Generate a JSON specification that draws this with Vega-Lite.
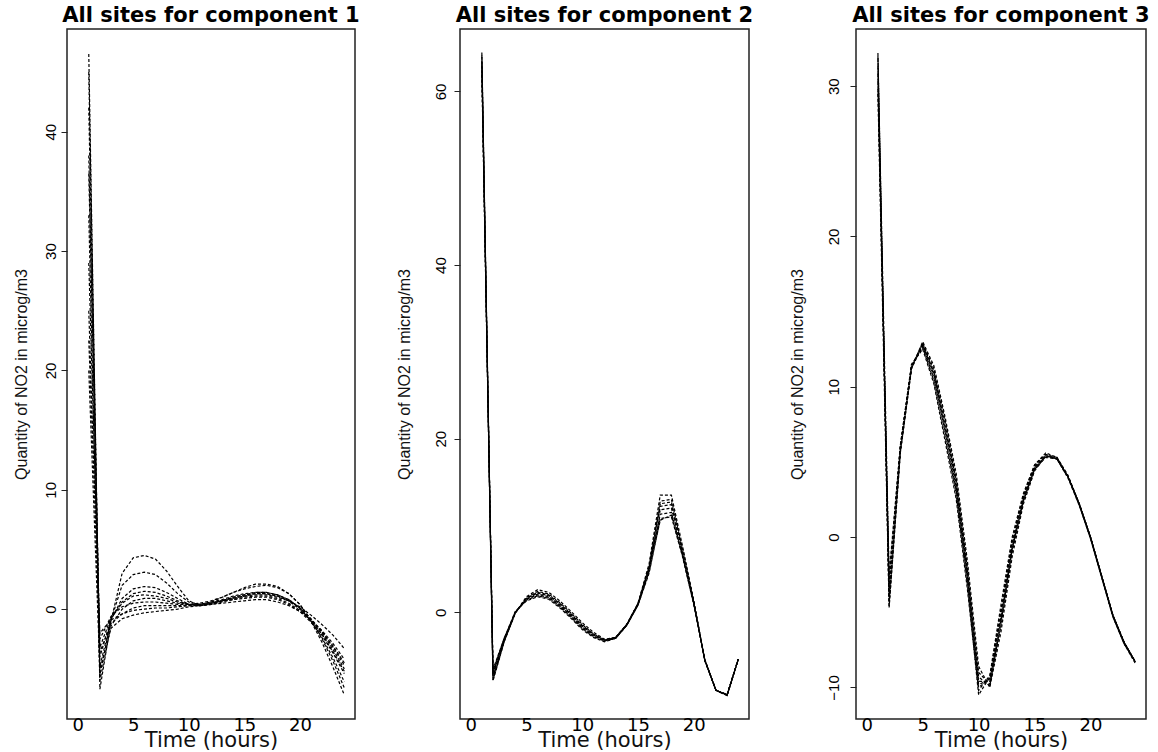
{
"$schema": "https://vega.github.io/schema/vega-lite/v6.json",
"background": "white",
"padding": {"left": 12, "top": 4, "right": 10, "bottom": 2},
"spacing": 34,
"config": {
  "view": {"stroke": "#222", "strokeWidth": 1.5},
  "axis": {"grid": false, "domain": false, "labelColor": "#000", "titleColor": "#111", "tickColor": "#222", "labelFlush": false, "labelOverlap": false, "labelBound": false}
},
"datasets": {
"c1": [
{"site":"a","hour":1,"no2":46.5},{"site":"a","hour":2,"no2":-6.7},{"site":"a","hour":3,"no2":-1.0},{"site":"a","hour":4,"no2":3.0},{"site":"a","hour":5,"no2":4.3},{"site":"a","hour":6,"no2":4.5},{"site":"a","hour":7,"no2":4.2},{"site":"a","hour":8,"no2":3.2},{"site":"a","hour":9,"no2":1.9},{"site":"a","hour":10,"no2":0.7},{"site":"a","hour":11,"no2":0.3},{"site":"a","hour":12,"no2":0.4},{"site":"a","hour":13,"no2":0.7},{"site":"a","hour":14,"no2":1.0},{"site":"a","hour":15,"no2":1.2},{"site":"a","hour":16,"no2":1.4},{"site":"a","hour":17,"no2":1.4},{"site":"a","hour":18,"no2":1.2},{"site":"a","hour":19,"no2":0.8},{"site":"a","hour":20,"no2":0.1},{"site":"a","hour":21,"no2":-0.9},{"site":"a","hour":22,"no2":-2.0},{"site":"a","hour":23,"no2":-3.4},{"site":"a","hour":24,"no2":-5.0},
{"site":"b","hour":1,"no2":45.0},{"site":"b","hour":2,"no2":-5.5},{"site":"b","hour":3,"no2":-0.9},{"site":"b","hour":4,"no2":2.0},{"site":"b","hour":5,"no2":2.9},{"site":"b","hour":6,"no2":3.1},{"site":"b","hour":7,"no2":2.9},{"site":"b","hour":8,"no2":2.2},{"site":"b","hour":9,"no2":1.3},{"site":"b","hour":10,"no2":0.6},{"site":"b","hour":11,"no2":0.4},{"site":"b","hour":12,"no2":0.6},{"site":"b","hour":13,"no2":1.0},{"site":"b","hour":14,"no2":1.4},{"site":"b","hour":15,"no2":1.8},{"site":"b","hour":16,"no2":2.1},{"site":"b","hour":17,"no2":2.1},{"site":"b","hour":18,"no2":1.9},{"site":"b","hour":19,"no2":1.3},{"site":"b","hour":20,"no2":0.4},{"site":"b","hour":21,"no2":-1.0},{"site":"b","hour":22,"no2":-2.8},{"site":"b","hour":23,"no2":-4.9},{"site":"b","hour":24,"no2":-7.2},
{"site":"c","hour":1,"no2":42.0},{"site":"c","hour":2,"no2":-4.8},{"site":"c","hour":3,"no2":-0.9},{"site":"c","hour":4,"no2":0.9},{"site":"c","hour":5,"no2":1.7},{"site":"c","hour":6,"no2":1.9},{"site":"c","hour":7,"no2":1.8},{"site":"c","hour":8,"no2":1.4},{"site":"c","hour":9,"no2":0.9},{"site":"c","hour":10,"no2":0.4},{"site":"c","hour":11,"no2":0.3},{"site":"c","hour":12,"no2":0.5},{"site":"c","hour":13,"no2":0.7},{"site":"c","hour":14,"no2":1.0},{"site":"c","hour":15,"no2":1.2},{"site":"c","hour":16,"no2":1.3},{"site":"c","hour":17,"no2":1.3},{"site":"c","hour":18,"no2":1.1},{"site":"c","hour":19,"no2":0.7},{"site":"c","hour":20,"no2":0.1},{"site":"c","hour":21,"no2":-0.8},{"site":"c","hour":22,"no2":-1.9},{"site":"c","hour":23,"no2":-3.2},{"site":"c","hour":24,"no2":-4.7},
{"site":"d","hour":1,"no2":38.0},{"site":"d","hour":2,"no2":-4.0},{"site":"d","hour":3,"no2":-0.8},{"site":"d","hour":4,"no2":0.6},{"site":"d","hour":5,"no2":1.3},{"site":"d","hour":6,"no2":1.5},{"site":"d","hour":7,"no2":1.4},{"site":"d","hour":8,"no2":1.1},{"site":"d","hour":9,"no2":0.7},{"site":"d","hour":10,"no2":0.4},{"site":"d","hour":11,"no2":0.3},{"site":"d","hour":12,"no2":0.5},{"site":"d","hour":13,"no2":0.7},{"site":"d","hour":14,"no2":0.9},{"site":"d","hour":15,"no2":1.1},{"site":"d","hour":16,"no2":1.2},{"site":"d","hour":17,"no2":1.2},{"site":"d","hour":18,"no2":1.0},{"site":"d","hour":19,"no2":0.7},{"site":"d","hour":20,"no2":0.2},{"site":"d","hour":21,"no2":-0.5},{"site":"d","hour":22,"no2":-1.3},{"site":"d","hour":23,"no2":-2.2},{"site":"d","hour":24,"no2":-3.3},
{"site":"e","hour":1,"no2":36.5},{"site":"e","hour":2,"no2":-3.2},{"site":"e","hour":3,"no2":-0.7},{"site":"e","hour":4,"no2":0.5},{"site":"e","hour":5,"no2":1.1},{"site":"e","hour":6,"no2":1.2},{"site":"e","hour":7,"no2":1.1},{"site":"e","hour":8,"no2":0.9},{"site":"e","hour":9,"no2":0.6},{"site":"e","hour":10,"no2":0.4},{"site":"e","hour":11,"no2":0.3},{"site":"e","hour":12,"no2":0.4},{"site":"e","hour":13,"no2":0.6},{"site":"e","hour":14,"no2":0.8},{"site":"e","hour":15,"no2":0.9},{"site":"e","hour":16,"no2":1.0},{"site":"e","hour":17,"no2":1.0},{"site":"e","hour":18,"no2":0.8},{"site":"e","hour":19,"no2":0.4},{"site":"e","hour":20,"no2":-0.2},{"site":"e","hour":21,"no2":-1.1},{"site":"e","hour":22,"no2":-2.2},{"site":"e","hour":23,"no2":-3.7},{"site":"e","hour":24,"no2":-5.4},
{"site":"f","hour":1,"no2":33.0},{"site":"f","hour":2,"no2":-6.0},{"site":"f","hour":3,"no2":-1.4},{"site":"f","hour":4,"no2":0.0},{"site":"f","hour":5,"no2":0.7},{"site":"f","hour":6,"no2":0.9},{"site":"f","hour":7,"no2":0.9},{"site":"f","hour":8,"no2":0.7},{"site":"f","hour":9,"no2":0.5},{"site":"f","hour":10,"no2":0.4},{"site":"f","hour":11,"no2":0.4},{"site":"f","hour":12,"no2":0.6},{"site":"f","hour":13,"no2":0.8},{"site":"f","hour":14,"no2":1.1},{"site":"f","hour":15,"no2":1.3},{"site":"f","hour":16,"no2":1.4},{"site":"f","hour":17,"no2":1.4},{"site":"f","hour":18,"no2":1.2},{"site":"f","hour":19,"no2":0.8},{"site":"f","hour":20,"no2":0.1},{"site":"f","hour":21,"no2":-1.0},{"site":"f","hour":22,"no2":-2.4},{"site":"f","hour":23,"no2":-4.1},{"site":"f","hour":24,"no2":-6.1},
{"site":"g","hour":1,"no2":29.0},{"site":"g","hour":2,"no2":-2.5},{"site":"g","hour":3,"no2":-0.6},{"site":"g","hour":4,"no2":0.2},{"site":"g","hour":5,"no2":0.5},{"site":"g","hour":6,"no2":0.6},{"site":"g","hour":7,"no2":0.6},{"site":"g","hour":8,"no2":0.5},{"site":"g","hour":9,"no2":0.4},{"site":"g","hour":10,"no2":0.4},{"site":"g","hour":11,"no2":0.5},{"site":"g","hour":12,"no2":0.7},{"site":"g","hour":13,"no2":1.0},{"site":"g","hour":14,"no2":1.4},{"site":"g","hour":15,"no2":1.7},{"site":"g","hour":16,"no2":1.9},{"site":"g","hour":17,"no2":2.0},{"site":"g","hour":18,"no2":1.8},{"site":"g","hour":19,"no2":1.3},{"site":"g","hour":20,"no2":0.4},{"site":"g","hour":21,"no2":-0.9},{"site":"g","hour":22,"no2":-2.5},{"site":"g","hour":23,"no2":-4.4},{"site":"g","hour":24,"no2":-6.6},
{"site":"h","hour":1,"no2":25.0},{"site":"h","hour":2,"no2":-3.6},{"site":"h","hour":3,"no2":-1.2},{"site":"h","hour":4,"no2":-0.4},{"site":"h","hour":5,"no2":0.1},{"site":"h","hour":6,"no2":0.3},{"site":"h","hour":7,"no2":0.3},{"site":"h","hour":8,"no2":0.3},{"site":"h","hour":9,"no2":0.3},{"site":"h","hour":10,"no2":0.3},{"site":"h","hour":11,"no2":0.3},{"site":"h","hour":12,"no2":0.4},{"site":"h","hour":13,"no2":0.5},{"site":"h","hour":14,"no2":0.6},{"site":"h","hour":15,"no2":0.7},{"site":"h","hour":16,"no2":0.8},{"site":"h","hour":17,"no2":0.8},{"site":"h","hour":18,"no2":0.6},{"site":"h","hour":19,"no2":0.3},{"site":"h","hour":20,"no2":-0.2},{"site":"h","hour":21,"no2":-0.9},{"site":"h","hour":22,"no2":-1.8},{"site":"h","hour":23,"no2":-2.9},{"site":"h","hour":24,"no2":-4.2},
{"site":"i","hour":1,"no2":22.5},{"site":"i","hour":2,"no2":-2.0},{"site":"i","hour":3,"no2":-0.9},{"site":"i","hour":4,"no2":-0.4},{"site":"i","hour":5,"no2":-0.1},{"site":"i","hour":6,"no2":0.0},{"site":"i","hour":7,"no2":0.1},{"site":"i","hour":8,"no2":0.1},{"site":"i","hour":9,"no2":0.2},{"site":"i","hour":10,"no2":0.3},{"site":"i","hour":11,"no2":0.4},{"site":"i","hour":12,"no2":0.5},{"site":"i","hour":13,"no2":0.7},{"site":"i","hour":14,"no2":0.9},{"site":"i","hour":15,"no2":1.1},{"site":"i","hour":16,"no2":1.3},{"site":"i","hour":17,"no2":1.3},{"site":"i","hour":18,"no2":1.1},{"site":"i","hour":19,"no2":0.7},{"site":"i","hour":20,"no2":0.0},{"site":"i","hour":21,"no2":-1.0},{"site":"i","hour":22,"no2":-2.1},{"site":"i","hour":23,"no2":-3.6},{"site":"i","hour":24,"no2":-5.2},
{"site":"j","hour":1,"no2":20.0},{"site":"j","hour":2,"no2":-5.0},{"site":"j","hour":3,"no2":-1.6},{"site":"j","hour":4,"no2":-0.8},{"site":"j","hour":5,"no2":-0.5},{"site":"j","hour":6,"no2":-0.3},{"site":"j","hour":7,"no2":-0.2},{"site":"j","hour":8,"no2":-0.1},{"site":"j","hour":9,"no2":0.0},{"site":"j","hour":10,"no2":0.2},{"site":"j","hour":11,"no2":0.3},{"site":"j","hour":12,"no2":0.5},{"site":"j","hour":13,"no2":0.7},{"site":"j","hour":14,"no2":0.8},{"site":"j","hour":15,"no2":1.0},{"site":"j","hour":16,"no2":1.1},{"site":"j","hour":17,"no2":1.1},{"site":"j","hour":18,"no2":0.9},{"site":"j","hour":19,"no2":0.5},{"site":"j","hour":20,"no2":-0.1},{"site":"j","hour":21,"no2":-0.9},{"site":"j","hour":22,"no2":-1.9},{"site":"j","hour":23,"no2":-3.1},{"site":"j","hour":24,"no2":-4.5}
],
"c2": [
{"site":"a","hour":1,"no2":64.5},{"site":"a","hour":2,"no2":-7.9},{"site":"a","hour":3,"no2":-3.4},{"site":"a","hour":4,"no2":-0.1},{"site":"a","hour":5,"no2":1.8},{"site":"a","hour":6,"no2":2.6},{"site":"a","hour":7,"no2":2.3},{"site":"a","hour":8,"no2":1.3},{"site":"a","hour":9,"no2":0.1},{"site":"a","hour":10,"no2":-1.2},{"site":"a","hour":11,"no2":-2.3},{"site":"a","hour":12,"no2":-3.1},{"site":"a","hour":13,"no2":-2.9},{"site":"a","hour":14,"no2":-1.4},{"site":"a","hour":15,"no2":1.0},{"site":"a","hour":16,"no2":5.6},{"site":"a","hour":17,"no2":13.5},{"site":"a","hour":18,"no2":13.5},{"site":"a","hour":19,"no2":7.6},{"site":"a","hour":20,"no2":1.4},{"site":"a","hour":21,"no2":-5.6},{"site":"a","hour":22,"no2":-9.0},{"site":"a","hour":23,"no2":-9.5},{"site":"a","hour":24,"no2":-5.4},
{"site":"b","hour":1,"no2":64.0},{"site":"b","hour":2,"no2":-7.6},{"site":"b","hour":3,"no2":-3.3},{"site":"b","hour":4,"no2":-0.1},{"site":"b","hour":5,"no2":1.7},{"site":"b","hour":6,"no2":2.4},{"site":"b","hour":7,"no2":2.1},{"site":"b","hour":8,"no2":1.1},{"site":"b","hour":9,"no2":-0.1},{"site":"b","hour":10,"no2":-1.4},{"site":"b","hour":11,"no2":-2.5},{"site":"b","hour":12,"no2":-3.2},{"site":"b","hour":13,"no2":-2.9},{"site":"b","hour":14,"no2":-1.4},{"site":"b","hour":15,"no2":1.0},{"site":"b","hour":16,"no2":5.3},{"site":"b","hour":17,"no2":12.8},{"site":"b","hour":18,"no2":13.0},{"site":"b","hour":19,"no2":7.3},{"site":"b","hour":20,"no2":1.3},{"site":"b","hour":21,"no2":-5.6},{"site":"b","hour":22,"no2":-9.0},{"site":"b","hour":23,"no2":-9.5},{"site":"b","hour":24,"no2":-5.4},
{"site":"c","hour":1,"no2":63.5},{"site":"c","hour":2,"no2":-7.2},{"site":"c","hour":3,"no2":-3.2},{"site":"c","hour":4,"no2":0.0},{"site":"c","hour":5,"no2":1.6},{"site":"c","hour":6,"no2":2.2},{"site":"c","hour":7,"no2":1.9},{"site":"c","hour":8,"no2":0.9},{"site":"c","hour":9,"no2":-0.3},{"site":"c","hour":10,"no2":-1.6},{"site":"c","hour":11,"no2":-2.6},{"site":"c","hour":12,"no2":-3.2},{"site":"c","hour":13,"no2":-2.9},{"site":"c","hour":14,"no2":-1.4},{"site":"c","hour":15,"no2":0.9},{"site":"c","hour":16,"no2":5.1},{"site":"c","hour":17,"no2":12.2},{"site":"c","hour":18,"no2":12.4},{"site":"c","hour":19,"no2":7.0},{"site":"c","hour":20,"no2":1.2},{"site":"c","hour":21,"no2":-5.5},{"site":"c","hour":22,"no2":-9.0},{"site":"c","hour":23,"no2":-9.5},{"site":"c","hour":24,"no2":-5.4},
{"site":"d","hour":1,"no2":63.0},{"site":"d","hour":2,"no2":-7.0},{"site":"d","hour":3,"no2":-3.1},{"site":"d","hour":4,"no2":0.0},{"site":"d","hour":5,"no2":1.5},{"site":"d","hour":6,"no2":2.0},{"site":"d","hour":7,"no2":1.7},{"site":"d","hour":8,"no2":0.7},{"site":"d","hour":9,"no2":-0.5},{"site":"d","hour":10,"no2":-1.8},{"site":"d","hour":11,"no2":-2.7},{"site":"d","hour":12,"no2":-3.3},{"site":"d","hour":13,"no2":-3.0},{"site":"d","hour":14,"no2":-1.5},{"site":"d","hour":15,"no2":0.9},{"site":"d","hour":16,"no2":4.9},{"site":"d","hour":17,"no2":11.8},{"site":"d","hour":18,"no2":12.0},{"site":"d","hour":19,"no2":6.8},{"site":"d","hour":20,"no2":1.1},{"site":"d","hour":21,"no2":-5.5},{"site":"d","hour":22,"no2":-9.0},{"site":"d","hour":23,"no2":-9.5},{"site":"d","hour":24,"no2":-5.4},
{"site":"e","hour":1,"no2":62.5},{"site":"e","hour":2,"no2":-6.8},{"site":"e","hour":3,"no2":-3.0},{"site":"e","hour":4,"no2":0.0},{"site":"e","hour":5,"no2":1.4},{"site":"e","hour":6,"no2":1.9},{"site":"e","hour":7,"no2":1.6},{"site":"e","hour":8,"no2":0.6},{"site":"e","hour":9,"no2":-0.6},{"site":"e","hour":10,"no2":-1.9},{"site":"e","hour":11,"no2":-2.8},{"site":"e","hour":12,"no2":-3.3},{"site":"e","hour":13,"no2":-3.0},{"site":"e","hour":14,"no2":-1.5},{"site":"e","hour":15,"no2":0.8},{"site":"e","hour":16,"no2":4.7},{"site":"e","hour":17,"no2":11.3},{"site":"e","hour":18,"no2":11.5},{"site":"e","hour":19,"no2":6.6},{"site":"e","hour":20,"no2":1.0},{"site":"e","hour":21,"no2":-5.5},{"site":"e","hour":22,"no2":-9.0},{"site":"e","hour":23,"no2":-9.6},{"site":"e","hour":24,"no2":-5.4},
{"site":"f","hour":1,"no2":62.0},{"site":"f","hour":2,"no2":-6.6},{"site":"f","hour":3,"no2":-3.0},{"site":"f","hour":4,"no2":0.1},{"site":"f","hour":5,"no2":1.3},{"site":"f","hour":6,"no2":1.8},{"site":"f","hour":7,"no2":1.5},{"site":"f","hour":8,"no2":0.5},{"site":"f","hour":9,"no2":-0.7},{"site":"f","hour":10,"no2":-2.0},{"site":"f","hour":11,"no2":-2.9},{"site":"f","hour":12,"no2":-3.4},{"site":"f","hour":13,"no2":-3.0},{"site":"f","hour":14,"no2":-1.5},{"site":"f","hour":15,"no2":0.8},{"site":"f","hour":16,"no2":4.5},{"site":"f","hour":17,"no2":10.8},{"site":"f","hour":18,"no2":11.0},{"site":"f","hour":19,"no2":6.4},{"site":"f","hour":20,"no2":0.9},{"site":"f","hour":21,"no2":-5.5},{"site":"f","hour":22,"no2":-9.0},{"site":"f","hour":23,"no2":-9.6},{"site":"f","hour":24,"no2":-5.4},
{"site":"g","hour":1,"no2":64.2},{"site":"g","hour":2,"no2":-7.4},{"site":"g","hour":3,"no2":-3.3},{"site":"g","hour":4,"no2":-0.1},{"site":"g","hour":5,"no2":1.6},{"site":"g","hour":6,"no2":2.3},{"site":"g","hour":7,"no2":2.0},{"site":"g","hour":8,"no2":1.0},{"site":"g","hour":9,"no2":-0.2},{"site":"g","hour":10,"no2":-1.5},{"site":"g","hour":11,"no2":-2.5},{"site":"g","hour":12,"no2":-3.2},{"site":"g","hour":13,"no2":-2.9},{"site":"g","hour":14,"no2":-1.4},{"site":"g","hour":15,"no2":1.0},{"site":"g","hour":16,"no2":5.2},{"site":"g","hour":17,"no2":12.5},{"site":"g","hour":18,"no2":12.7},{"site":"g","hour":19,"no2":7.1},{"site":"g","hour":20,"no2":1.2},{"site":"g","hour":21,"no2":-5.5},{"site":"g","hour":22,"no2":-9.0},{"site":"g","hour":23,"no2":-9.5},{"site":"g","hour":24,"no2":-5.4},
{"site":"h","hour":1,"no2":63.2},{"site":"h","hour":2,"no2":-7.8},{"site":"h","hour":3,"no2":-3.4},{"site":"h","hour":4,"no2":0.0},{"site":"h","hour":5,"no2":1.5},{"site":"h","hour":6,"no2":2.1},{"site":"h","hour":7,"no2":1.8},{"site":"h","hour":8,"no2":0.8},{"site":"h","hour":9,"no2":-0.4},{"site":"h","hour":10,"no2":-1.7},{"site":"h","hour":11,"no2":-2.7},{"site":"h","hour":12,"no2":-3.3},{"site":"h","hour":13,"no2":-3.0},{"site":"h","hour":14,"no2":-1.5},{"site":"h","hour":15,"no2":0.9},{"site":"h","hour":16,"no2":4.8},{"site":"h","hour":17,"no2":10.6},{"site":"h","hour":18,"no2":11.2},{"site":"h","hour":19,"no2":6.5},{"site":"h","hour":20,"no2":1.0},{"site":"h","hour":21,"no2":-5.5},{"site":"h","hour":22,"no2":-9.0},{"site":"h","hour":23,"no2":-9.5},{"site":"h","hour":24,"no2":-5.4}
],
"c3": [
{"site":"a","hour":1,"no2":32.2},{"site":"a","hour":2,"no2":-4.7},{"site":"a","hour":3,"no2":5.6},{"site":"a","hour":4,"no2":11.2},{"site":"a","hour":5,"no2":13.0},{"site":"a","hour":6,"no2":11.4},{"site":"a","hour":7,"no2":8.0},{"site":"a","hour":8,"no2":4.2},{"site":"a","hour":9,"no2":-1.6},{"site":"a","hour":10,"no2":-8.6},{"site":"a","hour":11,"no2":-10.0},{"site":"a","hour":12,"no2":-6.3},{"site":"a","hour":13,"no2":-1.3},{"site":"a","hour":14,"no2":2.2},{"site":"a","hour":15,"no2":4.4},{"site":"a","hour":16,"no2":5.4},{"site":"a","hour":17,"no2":5.3},{"site":"a","hour":18,"no2":4.1},{"site":"a","hour":19,"no2":2.2},{"site":"a","hour":20,"no2":0.0},{"site":"a","hour":21,"no2":-2.6},{"site":"a","hour":22,"no2":-5.2},{"site":"a","hour":23,"no2":-7.0},{"site":"a","hour":24,"no2":-8.3},
{"site":"b","hour":1,"no2":31.8},{"site":"b","hour":2,"no2":-4.3},{"site":"b","hour":3,"no2":5.7},{"site":"b","hour":4,"no2":11.3},{"site":"b","hour":5,"no2":12.9},{"site":"b","hour":6,"no2":11.2},{"site":"b","hour":7,"no2":7.8},{"site":"b","hour":8,"no2":3.9},{"site":"b","hour":9,"no2":-2.0},{"site":"b","hour":10,"no2":-9.0},{"site":"b","hour":11,"no2":-9.8},{"site":"b","hour":12,"no2":-5.9},{"site":"b","hour":13,"no2":-1.0},{"site":"b","hour":14,"no2":2.4},{"site":"b","hour":15,"no2":4.5},{"site":"b","hour":16,"no2":5.4},{"site":"b","hour":17,"no2":5.2},{"site":"b","hour":18,"no2":4.0},{"site":"b","hour":19,"no2":2.2},{"site":"b","hour":20,"no2":0.0},{"site":"b","hour":21,"no2":-2.6},{"site":"b","hour":22,"no2":-5.2},{"site":"b","hour":23,"no2":-7.0},{"site":"b","hour":24,"no2":-8.3},
{"site":"c","hour":1,"no2":31.3},{"site":"c","hour":2,"no2":-4.0},{"site":"c","hour":3,"no2":5.8},{"site":"c","hour":4,"no2":11.3},{"site":"c","hour":5,"no2":12.8},{"site":"c","hour":6,"no2":10.9},{"site":"c","hour":7,"no2":7.4},{"site":"c","hour":8,"no2":3.5},{"site":"c","hour":9,"no2":-2.4},{"site":"c","hour":10,"no2":-9.6},{"site":"c","hour":11,"no2":-9.6},{"site":"c","hour":12,"no2":-5.5},{"site":"c","hour":13,"no2":-0.7},{"site":"c","hour":14,"no2":2.5},{"site":"c","hour":15,"no2":4.6},{"site":"c","hour":16,"no2":5.4},{"site":"c","hour":17,"no2":5.2},{"site":"c","hour":18,"no2":4.0},{"site":"c","hour":19,"no2":2.2},{"site":"c","hour":20,"no2":0.0},{"site":"c","hour":21,"no2":-2.6},{"site":"c","hour":22,"no2":-5.2},{"site":"c","hour":23,"no2":-7.0},{"site":"c","hour":24,"no2":-8.3},
{"site":"d","hour":1,"no2":30.8},{"site":"d","hour":2,"no2":-3.6},{"site":"d","hour":3,"no2":5.9},{"site":"d","hour":4,"no2":11.4},{"site":"d","hour":5,"no2":12.7},{"site":"d","hour":6,"no2":10.6},{"site":"d","hour":7,"no2":7.0},{"site":"d","hour":8,"no2":3.1},{"site":"d","hour":9,"no2":-2.8},{"site":"d","hour":10,"no2":-10.0},{"site":"d","hour":11,"no2":-9.4},{"site":"d","hour":12,"no2":-5.1},{"site":"d","hour":13,"no2":-0.4},{"site":"d","hour":14,"no2":2.7},{"site":"d","hour":15,"no2":4.7},{"site":"d","hour":16,"no2":5.5},{"site":"d","hour":17,"no2":5.3},{"site":"d","hour":18,"no2":4.0},{"site":"d","hour":19,"no2":2.2},{"site":"d","hour":20,"no2":0.0},{"site":"d","hour":21,"no2":-2.6},{"site":"d","hour":22,"no2":-5.2},{"site":"d","hour":23,"no2":-7.0},{"site":"d","hour":24,"no2":-8.3},
{"site":"e","hour":1,"no2":30.3},{"site":"e","hour":2,"no2":-3.2},{"site":"e","hour":3,"no2":6.0},{"site":"e","hour":4,"no2":11.4},{"site":"e","hour":5,"no2":12.6},{"site":"e","hour":6,"no2":10.4},{"site":"e","hour":7,"no2":6.7},{"site":"e","hour":8,"no2":2.8},{"site":"e","hour":9,"no2":-3.2},{"site":"e","hour":10,"no2":-10.5},{"site":"e","hour":11,"no2":-9.3},{"site":"e","hour":12,"no2":-4.8},{"site":"e","hour":13,"no2":-0.2},{"site":"e","hour":14,"no2":2.8},{"site":"e","hour":15,"no2":4.8},{"site":"e","hour":16,"no2":5.6},{"site":"e","hour":17,"no2":5.3},{"site":"e","hour":18,"no2":4.0},{"site":"e","hour":19,"no2":2.1},{"site":"e","hour":20,"no2":-0.1},{"site":"e","hour":21,"no2":-2.7},{"site":"e","hour":22,"no2":-5.3},{"site":"e","hour":23,"no2":-7.1},{"site":"e","hour":24,"no2":-8.3},
{"site":"f","hour":1,"no2":29.8},{"site":"f","hour":2,"no2":-2.8},{"site":"f","hour":3,"no2":6.1},{"site":"f","hour":4,"no2":11.5},{"site":"f","hour":5,"no2":12.5},{"site":"f","hour":6,"no2":10.2},{"site":"f","hour":7,"no2":6.4},{"site":"f","hour":8,"no2":2.5},{"site":"f","hour":9,"no2":-3.5},{"site":"f","hour":10,"no2":-10.2},{"site":"f","hour":11,"no2":-9.2},{"site":"f","hour":12,"no2":-4.5},{"site":"f","hour":13,"no2":0.0},{"site":"f","hour":14,"no2":2.9},{"site":"f","hour":15,"no2":4.8},{"site":"f","hour":16,"no2":5.5},{"site":"f","hour":17,"no2":5.2},{"site":"f","hour":18,"no2":3.9},{"site":"f","hour":19,"no2":2.1},{"site":"f","hour":20,"no2":-0.1},{"site":"f","hour":21,"no2":-2.7},{"site":"f","hour":22,"no2":-5.3},{"site":"f","hour":23,"no2":-7.1},{"site":"f","hour":24,"no2":-8.4},
{"site":"g","hour":1,"no2":32.0},{"site":"g","hour":2,"no2":-2.5},{"site":"g","hour":3,"no2":6.0},{"site":"g","hour":4,"no2":11.3},{"site":"g","hour":5,"no2":12.9},{"site":"g","hour":6,"no2":11.0},{"site":"g","hour":7,"no2":7.6},{"site":"g","hour":8,"no2":3.7},{"site":"g","hour":9,"no2":-2.2},{"site":"g","hour":10,"no2":-9.3},{"site":"g","hour":11,"no2":-9.9},{"site":"g","hour":12,"no2":-5.7},{"site":"g","hour":13,"no2":-0.8},{"site":"g","hour":14,"no2":2.4},{"site":"g","hour":15,"no2":4.5},{"site":"g","hour":16,"no2":5.3},{"site":"g","hour":17,"no2":5.2},{"site":"g","hour":18,"no2":4.0},{"site":"g","hour":19,"no2":2.2},{"site":"g","hour":20,"no2":0.0},{"site":"g","hour":21,"no2":-2.6},{"site":"g","hour":22,"no2":-5.2},{"site":"g","hour":23,"no2":-7.0},{"site":"g","hour":24,"no2":-8.3},
{"site":"h","hour":1,"no2":29.5},{"site":"h","hour":2,"no2":-4.6},{"site":"h","hour":3,"no2":5.6},{"site":"h","hour":4,"no2":11.2},{"site":"h","hour":5,"no2":12.8},{"site":"h","hour":6,"no2":10.8},{"site":"h","hour":7,"no2":7.2},{"site":"h","hour":8,"no2":3.3},{"site":"h","hour":9,"no2":-2.6},{"site":"h","hour":10,"no2":-9.8},{"site":"h","hour":11,"no2":-9.5},{"site":"h","hour":12,"no2":-5.3},{"site":"h","hour":13,"no2":-0.5},{"site":"h","hour":14,"no2":2.6},{"site":"h","hour":15,"no2":4.6},{"site":"h","hour":16,"no2":5.4},{"site":"h","hour":17,"no2":5.2},{"site":"h","hour":18,"no2":4.0},{"site":"h","hour":19,"no2":2.2},{"site":"h","hour":20,"no2":0.0},{"site":"h","hour":21,"no2":-2.6},{"site":"h","hour":22,"no2":-5.2},{"site":"h","hour":23,"no2":-7.0},{"site":"h","hour":24,"no2":-8.3}
]
},
"hconcat": [
{
  "width": 288, "height": 690,
  "title": {"text": "All sites for component 1", "font": "DejaVu Sans", "fontSize": 21, "fontWeight": "bold", "anchor": "middle", "baseline": "alphabetic", "offset": -14, "color": "#000"},
  "data": {"name": "c1"},
  "mark": {"type": "line", "stroke": "#000", "strokeWidth": 1.2, "strokeDash": [3, 2], "clip": true},
  "encoding": {
    "x": {"field": "hour", "type": "quantitative", "scale": {"domain": [-0.96, 24.96], "nice": false, "zero": false},
      "axis": {"values": [0, 5, 10, 15, 20], "title": "Time (hours)", "ticks": false, "tickSize": 0, "labelPadding": -3, "labelFont": "DejaVu Sans", "labelFontSize": 18, "titleFont": "DejaVu Sans", "titleFontSize": 21, "titleFontWeight": "normal", "titlePadding": -5}},
    "y": {"field": "no2", "type": "quantitative", "scale": {"domain": [-9.2, 48.6], "nice": false, "zero": false},
      "axis": {"values": [0, 10, 20, 30, 40], "title": "Quantity of NO2 in microg/m3", "labelAngle": -90, "labelAlign": "center", "labelBaseline": "bottom", "tickSize": 6, "labelPadding": 3, "labelFont": "Liberation Sans", "labelFontSize": 15, "titleFont": "Liberation Sans", "titleFontSize": 16, "titleFontWeight": "normal", "titlePadding": 14}},
    "detail": {"field": "site"}
  }
},
{
  "width": 289, "height": 690,
  "title": {"text": "All sites for component 2", "font": "DejaVu Sans", "fontSize": 21, "fontWeight": "bold", "anchor": "middle", "baseline": "alphabetic", "offset": -14, "color": "#000"},
  "data": {"name": "c2"},
  "mark": {"type": "line", "stroke": "#000", "strokeWidth": 1.2, "strokeDash": [3, 2], "clip": true},
  "encoding": {
    "x": {"field": "hour", "type": "quantitative", "scale": {"domain": [-0.96, 24.96], "nice": false, "zero": false},
      "axis": {"values": [0, 5, 10, 15, 20], "title": "Time (hours)", "ticks": false, "tickSize": 0, "labelPadding": -3, "labelFont": "DejaVu Sans", "labelFontSize": 18, "titleFont": "DejaVu Sans", "titleFontSize": 21, "titleFontWeight": "normal", "titlePadding": -5}},
    "y": {"field": "no2", "type": "quantitative", "scale": {"domain": [-12.3, 67.2], "nice": false, "zero": false},
      "axis": {"values": [0, 20, 40, 60], "title": "Quantity of NO2 in microg/m3", "labelAngle": -90, "labelAlign": "center", "labelBaseline": "bottom", "tickSize": 6, "labelPadding": 6, "labelFont": "Liberation Sans", "labelFontSize": 15, "titleFont": "Liberation Sans", "titleFontSize": 16, "titleFontWeight": "normal", "titlePadding": 21}},
    "detail": {"field": "site"}
  }
},
{
  "width": 290, "height": 690,
  "title": {"text": "All sites for component 3", "font": "DejaVu Sans", "fontSize": 21, "fontWeight": "bold", "anchor": "middle", "baseline": "alphabetic", "offset": -14, "color": "#000"},
  "data": {"name": "c3"},
  "mark": {"type": "line", "stroke": "#000", "strokeWidth": 1.2, "strokeDash": [3, 2], "clip": true},
  "encoding": {
    "x": {"field": "hour", "type": "quantitative", "scale": {"domain": [-0.96, 24.96], "nice": false, "zero": false},
      "axis": {"values": [0, 5, 10, 15, 20], "title": "Time (hours)", "ticks": false, "tickSize": 0, "labelPadding": -3, "labelFont": "DejaVu Sans", "labelFontSize": 18, "titleFont": "DejaVu Sans", "titleFontSize": 21, "titleFontWeight": "normal", "titlePadding": -5}},
    "y": {"field": "no2", "type": "quantitative", "scale": {"domain": [-12.1, 33.8], "nice": false, "zero": false},
      "axis": {"values": [-10, 0, 10, 20, 30], "title": "Quantity of NO2 in microg/m3", "labelAngle": -90, "labelAlign": "center", "labelBaseline": "bottom", "tickSize": 6, "labelPadding": 9, "labelFont": "Liberation Sans", "labelFontSize": 15, "titleFont": "Liberation Sans", "titleFontSize": 16, "titleFontWeight": "normal", "titlePadding": 21}},
    "detail": {"field": "site"}
  }
}
]
}
